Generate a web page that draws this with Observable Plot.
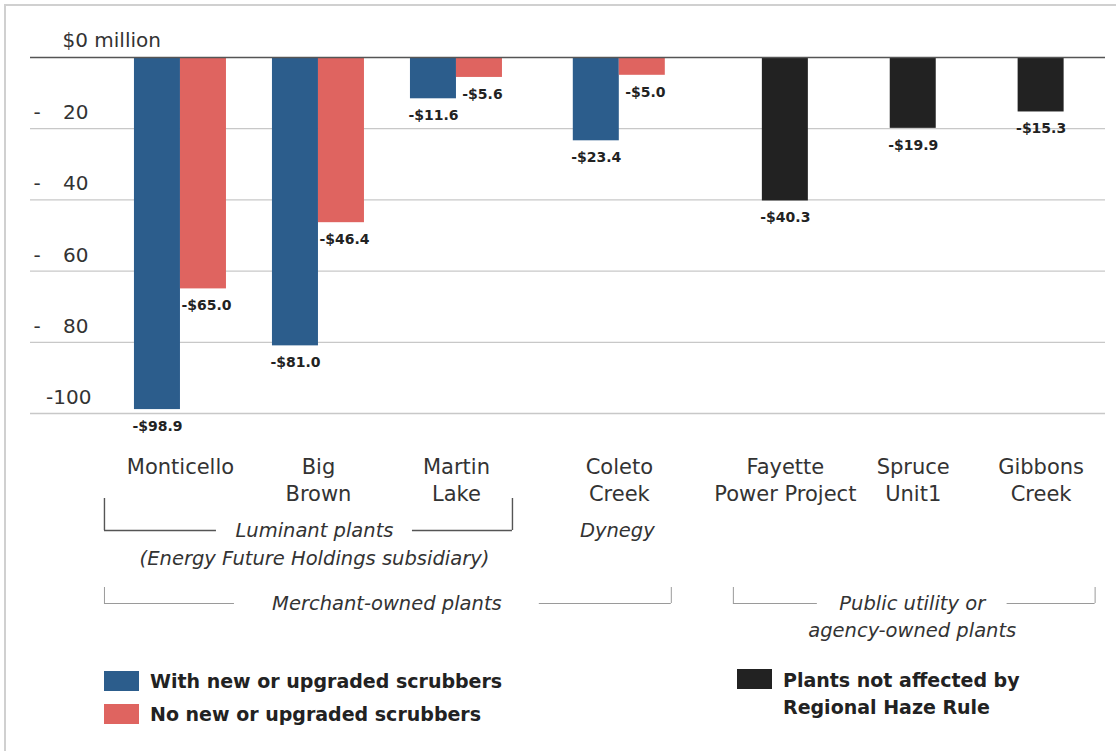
<!DOCTYPE html>
<html>
<head>
<meta charset="utf-8">
<script src="https://cdn.jsdelivr.net/npm/d3@7"></script>
<script src="https://cdn.jsdelivr.net/npm/@observablehq/plot@0.6"></script>
<style>
  body { margin: 0; background: #fff; overflow: hidden; font-family: "DejaVu Sans", sans-serif; }
  #wrap { position: relative; width: 1116px; height: 751px; overflow: hidden; }
  #frame { position: absolute; left: 4px; top: 4px; width: 1300px; height: 900px;
           border-left: 2px solid #d0d0d0; border-top: 2px solid #d0d0d0; pointer-events: none; }
  #chart { position: absolute; left: 0; top: 0; }
  .sw { position: absolute; width: 35px; height: 20px; }
  .lt { position: absolute; font-weight: bold; font-size: 19px; color: #222; white-space: nowrap; line-height: 22px; }
</style>
</head>
<body>
<div id="wrap">
  <div id="frame"></div>
  <div id="chart"></div>
  <div id="legend"></div>
</div>
<script>
// ---------- data ----------
const plants = ["Monticello", "Big Brown", "Martin Lake", "Coleto Creek", "Fayette Power Project", "Spruce Unit1", "Gibbons Creek"];
const plantLabels = ["Monticello", "Big\nBrown", "Martin\nLake", "Coleto\nCreek", "Fayette\nPower Project", "Spruce\nUnit1", "Gibbons\nCreek"];
const withScrubbers = [-98.9, -81.0, -11.6, -23.4, null, null, null];
const noScrubbers   = [-65.0, -46.4, -5.6, -5.0, null, null, null];
const notAffected   = [null, null, null, null, -40.3, -19.9, -15.3];
const seriesNames = ["With new or upgraded scrubbers", "No new or upgraded scrubbers", "Plants not affected by Regional Haze Rule"];
const yTicks = [0, -20, -40, -60, -80, -100];

// ---------- layout (in bar-width units) ----------
const BARPX = 46;
const W = 1116, H = 655, ML = 30, MR = 11, MT = 57, MB = 242;
const xMax = (W - ML - MR) / BARPX;
const firstCenter = 3.26;
const gaps = [3, 3, 3.54, 3.61, 2.78, 2.78];
const centers = [firstCenter];
gaps.forEach(g => centers.push(centers[centers.length - 1] + g));
const PXU = (H - MT - MB) / 100;               // px per $ million
const yBelow = px => -100 - px / PXU;          // px below the -100 line
const u = px => px / BARPX;                    // px -> x units

// ---------- table ----------
const bars = [];
plants.forEach((p, i) => {
  const c = centers[i];
  if (withScrubbers[i] != null) bars.push({plant: p, series: seriesNames[0], value: withScrubbers[i], x1: c - 1, x2: c});
  if (noScrubbers[i] != null) bars.push({plant: p, series: seriesNames[1], value: noScrubbers[i], x1: c, x2: c + 1});
  if (notAffected[i] != null) bars.push({plant: p, series: seriesNames[2], value: notAffected[i], x1: c - 0.5, x2: c + 0.5});
});
const fmt = v => "-$" + Math.abs(v).toFixed(1);

// brackets
const brackets = [
  {a: centers[0] - u(76), b: centers[2] + u(56), l: u(112), r: u(100), tick: [85, 117], lines: ["Luminant plants", "(Energy Future Holdings subsidiary)"], step: 28, stroke: "#555", sw: 1.4},
  {a: centers[0] - u(76), b: centers[3] + u(52), l: u(130), r: u(132), tick: [174, 190], lines: ["Merchant-owned plants"], step: 27, stroke: "#9a9a9a", sw: 1},
  {a: centers[4] - u(52), b: centers[6] + u(54), l: u(84), r: u(88), tick: [174, 190], lines: ["Public utility or", "agency-owned plants"], step: 27, stroke: "#9a9a9a", sw: 1}
];
const hSegs = brackets.flatMap(b => [{x1: b.a, x2: b.a + b.l, y: yBelow(b.tick[1]), s: b.stroke, w: b.sw}, {x1: b.b - b.r, x2: b.b, y: yBelow(b.tick[1]), s: b.stroke, w: b.sw}]);
const vSegs = brackets.flatMap(b => [{x: b.a, y1: yBelow(b.tick[0]), y2: yBelow(b.tick[1]), s: b.stroke, w: b.sw}, {x: b.b, y1: yBelow(b.tick[0]), y2: yBelow(b.tick[1]), s: b.stroke, w: b.sw}]);
const bText = brackets.flatMap(b => b.lines.map((t, k) => ({x: (b.a + b.l + b.b - b.r) / 2, y: yBelow(b.tick[1] + k * b.step), text: t})));
bText.push({x: centers[3] - u(2), y: yBelow(117), text: "Dynegy"});

const F = "DejaVu Sans";
const labelOpts = {dy: 17, fontWeight: "bold", fontSize: 14, fill: "#222", fontFamily: F, lineAnchor: "middle"};
const chart = Plot.plot({
  width: W, height: H,
  marginTop: MT, marginBottom: MB, marginLeft: ML, marginRight: MR,
  x: {domain: [0, xMax], axis: null},
  y: {domain: [-100, 0], axis: null},
  color: {domain: seriesNames, range: ["#2c5d8c", "#df6460", "#222222"]},
  style: {background: "transparent", fontFamily: F},
  marks: [
    Plot.ruleY(yTicks.filter(d => d < 0), {stroke: "#c8c8c8", strokeWidth: 1.3}),
    Plot.rect(bars, {x1: "x1", x2: "x2", y1: 0, y2: "value", fill: "series"}),
    Plot.ruleY([0], {stroke: "#555", strokeWidth: 1.6}),
    // value labels
    Plot.text(bars.filter(d => d.series !== seriesNames[1]), {x: d => (d.x1 + d.x2) / 2, y: "value", text: d => fmt(d.value), ...labelOpts}),
    Plot.text(bars.filter(d => d.series === seriesNames[1]), {x: d => (d.x1 + d.x2) / 2, y: "value", text: d => fmt(d.value), dx: 3, ...labelOpts}),
    // y tick labels
    Plot.text(yTicks.filter(d => d < 0 && d > -100), {y: d => d, frameAnchor: "left", dx: 3, dy: -16, text: d => "-",
      textAnchor: "start", fontSize: 20, fill: "#333", fontFamily: F}),
    Plot.text(yTicks.filter(d => d < 0 && d > -100), {y: d => d, frameAnchor: "left", dx: 58, dy: -16, text: d => String(Math.abs(d)),
      textAnchor: "end", fontSize: 20, fill: "#333", fontFamily: F}),
    Plot.text(yTicks.filter(d => d === -100), {y: d => d, frameAnchor: "left", dx: 61, dy: -16, text: d => String(d),
      textAnchor: "end", fontSize: 20, fill: "#333", fontFamily: F, letterSpacing: 3}),
    Plot.text(yTicks.filter(d => d === 0), {y: d => d, frameAnchor: "left", dx: 32, dy: -17, text: d => "$" + d + " million",
      textAnchor: "start", fontSize: 20, fill: "#333", fontFamily: F}),
    // category labels
    Plot.text(plantLabels, {x: (d, i) => centers[i], y: yBelow(41.6), text: d => d, lineAnchor: "top", lineHeight: 1.27,
      fontSize: 21, fill: "#333", fontFamily: F}),
    // brackets
    Plot.ruleY(hSegs, {x1: "x1", x2: "x2", y: "y", stroke: "s", strokeWidth: "w"}),
    Plot.ruleX(vSegs, {x: "x", y1: "y1", y2: "y2", stroke: "s", strokeWidth: "w"}),
    Plot.text(bText, {x: "x", y: "y", text: "text", lineAnchor: "middle", fontStyle: "italic",
      fontSize: 19.5, fill: "#333", fontFamily: F})
  ]
});
document.getElementById("chart").appendChild(chart);

// ---------- legend (HTML) ----------
const colors = {[seriesNames[0]]: "#2c5d8c", [seriesNames[1]]: "#df6460", [seriesNames[2]]: "#222222"};
const legendItems = [
  {name: seriesNames[0], label: "With new or upgraded scrubbers", left: 104, top: 671},
  {name: seriesNames[1], label: "No new or upgraded scrubbers", left: 104, top: 704},
  {name: seriesNames[2], label: "Plants not affected by<br>Regional Haze Rule", left: 737, top: 669}
];
const lg = document.getElementById("legend");
legendItems.forEach(it => {
  const s = document.createElement("div");
  s.className = "sw";
  s.style.left = it.left + "px"; s.style.top = it.top + "px";
  s.style.background = colors[it.name];
  lg.appendChild(s);
  const t = document.createElement("div");
  t.className = "lt";
  t.style.left = (it.left + 46) + "px";
  t.style.top = (it.top - 1) + "px";
  if (it.name === seriesNames[2]) { t.style.lineHeight = "27px"; t.style.top = (it.top - 2) + "px"; }
  t.innerHTML = it.label;
  lg.appendChild(t);
});
</script>
</body>
</html>
